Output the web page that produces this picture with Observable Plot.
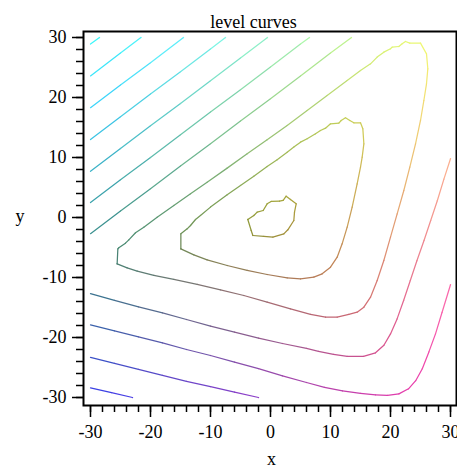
<!DOCTYPE html>
<html>
<head>
<meta charset="utf-8">
<script src="https://cdn.jsdelivr.net/npm/d3@7"></script>
<script src="https://cdn.jsdelivr.net/npm/@observablehq/plot@0.6"></script>
<style>
  html, body { margin: 0; padding: 0; background: white; }
</style>
</head>
<body>
<div id="chart"></div>
<script>
// ---- data (x, y pairs along each level curve) ----
const level1Loop = [[-3.78,-0.33],[-3.22,-2.16],[-2.94,-3.0],[-1.11,-3.16],[0.39,-3.27],[2.22,-2.72],[2.89,-2.05],[3.89,-0.5],[4.0,0.89],[4.28,2.28],[3.33,3.0],[2.61,3.56],[2.11,2.84],[1.5,2.72],[0.11,2.67],[-0.56,2.28],[-1.22,1.17],[-2.22,0.89],[-2.78,0.33],[-3.78,-0.33]];
const level2Loop = [[-14.94,-5.22],[-14.94,-2.72],[-13.89,-1.89],[-13.33,-1.33],[-12.5,-0.33],[-11.67,0.34],[-10,1.73],[-7.22,3.78],[-5,5.34],[-2.78,6.89],[-0.56,8.5],[1.11,9.61],[2.78,10.89],[3.89,11.73],[5,12.56],[6.11,13.12],[7.5,13.95],[8.33,14.5],[9.17,14.89],[10,15.61],[11.39,15.73],[11.78,16.17],[12.5,16.61],[13.22,16.17],[13.89,15.78],[15,15.78],[15.39,14.78],[15.56,12.28],[15.28,10.06],[15,8.39],[14.44,5.62],[13.61,1.73],[12.78,-1.61],[11.94,-4.39],[11.11,-6.61],[10,-8.28],[8.61,-9.39],[7.22,-9.94],[5,-10.22],[2.78,-10.05],[-0.56,-9.5],[-3.89,-8.83],[-7.22,-8.0],[-10.56,-7.05],[-12.78,-6.22],[-14.94,-5.22]];
const level3Loop = [[-25.56,-7.72],[-25.44,-5.22],[-25.28,-5.05],[-24.17,-4.28],[-23.61,-3.72],[-22.5,-2.55],[-21.11,-1.61],[-18.89,0.06],[-16.11,2.0],[-13.33,3.95],[-10.56,5.89],[-7.22,8.23],[-3.89,10.61],[-0.56,12.95],[2.78,15.34],[6.11,17.84],[9.44,20.34],[12.78,22.84],[15,24.5],[16.67,25.61],[17.78,26.73],[18.89,27.56],[20,28.12],[20.28,28.4],[21.39,28.5],[21.94,28.95],[22.5,29.34],[23.22,29.06],[25,29.06],[26,27.28],[26.22,24.78],[26,22.28],[25.56,19.5],[25,16.17],[24.17,12.28],[23.22,8.39],[22.22,4.5],[21.11,0.61],[20,-3.28],[18.89,-7.16],[17.78,-10.5],[16.67,-13.28],[15.56,-14.94],[14.44,-15.78],[13.06,-16.16],[11.11,-16.61],[9.17,-16.61],[6.67,-16.16],[3.33,-15.22],[-0.56,-14.11],[-4.44,-13.0],[-8.33,-12.05],[-12.22,-11.16],[-16.11,-10.33],[-19.44,-9.66],[-22.22,-8.94],[-23.89,-8.39],[-25.56,-7.72]];
const level4Lower = [[-30,-12.7],[-26,-13.8],[-22,-14.9],[-18,-15.9],[-14,-17.0],[-10,-18.1],[-6,-19.1],[-2,-20.1],[2,-21.0],[6,-21.8],[8,-22.3],[10.5,-22.8],[12.8,-23.15],[15.5,-23.15],[17.5,-22.55],[18.9,-21.3],[20,-19.4],[21.1,-16.9],[22.2,-13.8],[23.3,-10.5],[24.4,-7.2],[25.6,-3.8],[26.7,-0.5],[27.8,2.8],[28.9,6.4],[30,9.8]];
const level5Lower = [[-30,-17.9],[-26,-18.9],[-22,-19.9],[-18,-20.9],[-14,-22.0],[-10,-23.0],[-6,-24.1],[-2,-25.2],[2,-26.4],[6,-27.5],[9,-28.3],[12,-28.9],[15,-29.3],[17.5,-29.55],[19.5,-29.65],[21.4,-29.4],[23,-28.55],[24.2,-27.2],[25.3,-25.2],[26.4,-22.4],[27.5,-19.4],[28.6,-15.8],[30,-11.2]];
const level6Lower = [[-30,-23.3],[-26,-24.3],[-22,-25.3],[-18,-26.3],[-14,-27.3],[-10,-28.2],[-6,-29.1],[-2,-30]];
const level7Lower = [[-30,-28.4],[-26.5,-29.2],[-23,-30]];
const level4Upper = [[-30,-2.7],[-25,1.1],[-20,4.8],[-15,8.6],[-10,12.3],[-5,16.1],[0,19.8],[5,23.6],[10,27.4],[13.5,30]];
const level5Upper = [[-30,2.5],[-25,6.3],[-20,10.0],[-15,13.8],[-10,17.6],[-5,21.3],[0,25.1],[5,28.9],[6.5,30]];
const level6Upper = [[-30,7.7],[-25,11.5],[-20,15.3],[-15,19.0],[-10,22.8],[-5,26.6],[-0.5,30]];
const level7Upper = [[-30,13.0],[-25,16.8],[-20,20.6],[-15,24.3],[-10,28.1],[-7.5,30]];
const level8Upper = [[-30,18.3],[-25,22.1],[-20,25.8],[-14.5,30]];
const level9Upper = [[-30,23.6],[-25,27.4],[-21.6,30]];
const level10Upper = [[-30,28.9],[-28.5,30]];

const curveList = [
  [1, level1Loop], [2, level2Loop], [3, level3Loop],
  [4, level4Lower], [5, level5Lower], [6, level6Lower], [7, level7Lower],
  [4, level4Upper], [5, level5Upper], [6, level6Upper], [7, level7Upper],
  [8, level8Upper], [9, level9Upper], [10, level10Upper]
];

const xTicksMajor = [-30, -20, -10, 0, 10, 20, 30];
const yTicksMajor = [-30, -20, -10, 0, 10, 20, 30];
const ticksMinor = d3.range(-30, 31, 2);

// build table
const rows = [];
curveList.forEach(([level, pts], id) => {
  pts.forEach(([x, y]) => rows.push({id, level, x, y}));
});

// colour: red follows x, green follows y, blue follows the level
function colorOf(d) {
  const r = 60 + 195 * (d.x + 30) / 60;
  const g = 60 + 190 * (d.y + 30) / 60;
  const b = Math.min(250, 60 + 28 * (d.level - 1));
  return `rgb(${Math.round(r)},${Math.round(g)},${Math.round(b)})`;
}

const font = '"Liberation Serif", "Times New Roman", serif';
const hyphenFormat = d => String(d);

const chart = Plot.plot({
  width: 457,
  height: 469,
  marginLeft: 83,
  marginRight: 1,
  marginTop: 31,
  marginBottom: 64,
  style: {fontFamily: font, fontSize: "18px", background: "white", color: "black"},
  x: {domain: [-30, 30], insetLeft: 7, insetRight: 6},
  y: {domain: [-30, 30], insetTop: 6, insetBottom: 8},
  color: {type: "identity"},
  marks: [
    Plot.line(rows, {x: "x", y: "y", z: "id", stroke: colorOf, strokeWidth: 1.25, strokeLinecap: "round", strokeLinejoin: "round"}),
    Plot.frame({stroke: "black", strokeWidth: 2}),
    Plot.axisX({ticks: ticksMinor, tickSize: 7, tickFormat: () => "", strokeWidth: 1.5, label: null}),
    Plot.axisX({ticks: xTicksMajor, tickSize: 12, tickPadding: 8, tickFormat: hyphenFormat, strokeWidth: 1.5, label: null, fontSize: 18}),
    Plot.axisY({ticks: ticksMinor, tickSize: 7, tickFormat: () => "", strokeWidth: 1.5, label: null}),
    Plot.axisY({ticks: yTicksMajor, tickSize: 11, tickPadding: 6, tickFormat: hyphenFormat, strokeWidth: 1.5, label: null, fontSize: 18}),
    Plot.text(["level curves"], {text: d => d, frameAnchor: "top", dx: -16.5, dy: -16, fontSize: 18}),
    Plot.text(["x"], {text: d => d, frameAnchor: "bottom", dx: 1.5, dy: 59, fontSize: 18}),
    Plot.text(["y"], {text: d => d, frameAnchor: "left", dx: -68, dy: -2, fontSize: 18})
  ]
});

document.getElementById("chart").appendChild(chart);
</script>
</body>
</html>
